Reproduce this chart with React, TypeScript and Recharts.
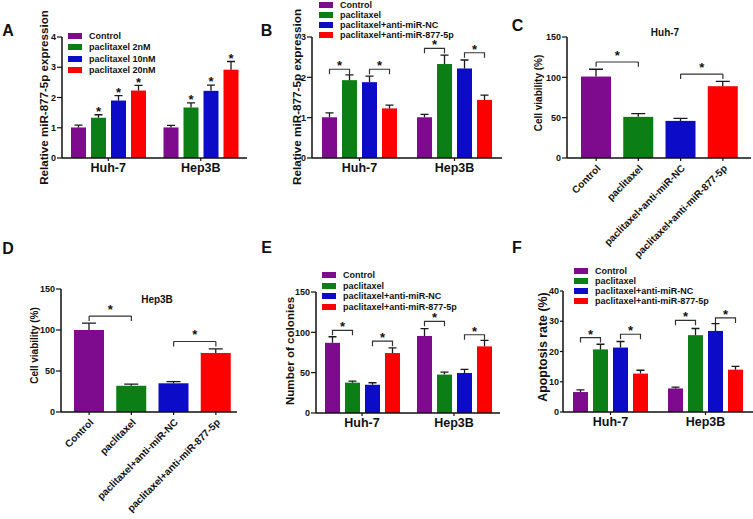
import React from 'react';
import { BarChart, Bar, XAxis, YAxis, Legend, ReferenceLine, Cell } from 'recharts';

const FONT = '"Liberation Sans", Arial, Helvetica, sans-serif';

const groups = ['Huh-7', 'Hep3B'];
const doseNames = ['Control', 'paclitaxel 2nM', 'paclitaxel 10nM', 'paclitaxel 20nM'];
const treatNames = ['Control', 'paclitaxel', 'paclitaxel+anti-miR-NC', 'paclitaxel+anti-miR-877-5p'];
const colors = ['#7e0b8e', '#0b7e16', '#0b0bc8', '#fd0000'];

// A: miR-877-5p after paclitaxel doses (rows = Huh-7, Hep3B)
const aMeans = [[1.01, 1.33, 1.9, 2.23], [1.01, 1.67, 2.22, 2.92]];
const aErrs = [[0.08, 0.1, 0.16, 0.17], [0.07, 0.15, 0.19, 0.27]];
const aStars = [[false, true, true, true], [false, true, true, true]];
const aTicks = [0, 1, 2, 3, 4];

// B: miR-877-5p with anti-miR
const bMeans = [[1.01, 1.93, 1.88, 1.23], [1.01, 2.33, 2.22, 1.44]];
const bErrs = [[0.11, 0.13, 0.15, 0.08], [0.07, 0.22, 0.21, 0.12]];
const bBrackets = [[2.2, 2.2], [2.72, 2.61]];
const bTicks = [0, 1, 2, 3];

// C / D: cell viability
const cMeans = [101, 51, 46, 89];
const cErrs = [9, 4, 3, 6];
const cBrackets = [119, 104];
const dMeans = [100, 32, 35, 72];
const dErrs = [8.5, 2, 2, 5];
const dBrackets = [117, 86];
const viabilityTicks = [0, 50, 100, 150];

// E: colonies
const eMeans = [[87, 37.6, 35, 74.3], [95.5, 47.6, 49.6, 82.6]];
const eErrs = [[7.5, 2, 2.5, 6.5], [9, 3, 4.5, 7.5]];
const eBrackets = [[102.5, 89], [113.6, 97]];
const colonyTicks = [0, 50, 100, 150];

// F: apoptosis
const fMeans = [[6.6, 20.7, 21.3, 12.7], [7.8, 25.4, 26.8, 14.0]];
const fErrs = [[0.7, 1.7, 2.0, 1.1], [0.4, 2.2, 2.4, 1.1]];
const fBrackets = [[24.6, 25.7], [30.3, 31.1]];
const fTicks = [0, 10, 20, 30, 40];

const BAR = 15;
const GAP = 5;
const INK = '#111';
const ERR = '#1a1a1a';
const BR = '#333';

const axisLine = { stroke: INK, strokeWidth: 1.5 };
const tickLine = { stroke: INK, strokeWidth: 1.2 };
const yTick = { fontSize: 9, fontWeight: 700, fill: INK, fontFamily: FONT };
const xTick = { fontSize: 12.5, fontWeight: 700, fill: INK, fontFamily: FONT };

const Star = ({ x, y }: { x: number; y: number }) => (
  <text x={x} y={y} textAnchor="middle" fontSize={13} fontWeight={700} fontFamily={FONT} fill={INK}>
    *
  </text>
);

const yTitle = (text: string, cx: number, cy: number, size: number) => () => (
  <text
    x={cx}
    y={cy}
    transform={`rotate(-90 ${cx} ${cy})`}
    textAnchor="middle"
    dominantBaseline="central"
    fontSize={size}
    fontWeight={700}
    fontFamily={FONT}
    fill={INK}
  >
    {text}
  </text>
);

const legendContent = (names: string[], rowH: number) => (props: any) => {
  const items = [...(props.payload || [])].sort((a: any, b: any) => names.indexOf(a.value) - names.indexOf(b.value));
  return (
    <div style={{ fontFamily: FONT, fontSize: 9, fontWeight: 700, color: INK }}>
      {items.map((e: any) => (
        <div key={e.value} style={{ display: 'flex', alignItems: 'center', height: rowH, whiteSpace: 'nowrap' }}>
          <span style={{ width: 14, height: 6, background: e.color, marginRight: 7, flex: 'none' }} />
          <span>{e.value}</span>
        </div>
      ))}
    </div>
  );
};

const RotTick = (p: any) => {
  const tx = p.x + 5;
  const ty = p.y + 6;
  return (
    <text
      x={tx}
      y={ty}
      transform={`rotate(-45 ${tx} ${ty})`}
      textAnchor="end"
      fontSize={10}
      fontWeight={700}
      fontFamily={FONT}
      fill={INK}
    >
      {p.payload.value}
    </text>
  );
};

type GroupedProps = {
  names: string[];
  means: number[][];
  errs: number[][];
  stars?: boolean[][];
  brackets?: number[][];
  max: number;
  ticks: number[];
  width: number;
  height: number;
  top: number;
  right: number;
  yWidth: number;
  xHeight: number;
  yTickSize?: number;
  title: string;
  titleAt: [number, number, number];
  legendAt: [number, number, number];
};

// bar + error bar + star / bracket, drawn from the bar geometry recharts hands us
const groupedShape = (si: number, p: GroupedProps) => (b: any) => {
  const { x, y, width, height, fill, index } = b;
  const v = p.means[index][si];
  const base = y + height;
  const k = height / v;
  const cx = x + width / 2;
  const top = base - (v + p.errs[index][si]) * k;
  let bracket = null;
  if (p.brackets && si % 2 === 0) {
    const by = base - p.brackets[index][si / 2] * k;
    const cx2 = cx + width + GAP;
    bracket = (
      <g>
        <path d={`M${cx},${by + 5}V${by}H${cx2}V${by + 5}`} stroke={BR} strokeWidth={1.2} fill="none" />
        <Star x={(cx + cx2) / 2} y={by + 1} />
      </g>
    );
  }
  return (
    <g>
      <rect x={x} y={y} width={width} height={height} fill={fill} />
      <path d={`M${cx},${y}V${top}M${cx - 4},${top}H${cx + 4}`} stroke={ERR} strokeWidth={1.3} fill="none" />
      {p.stars && p.stars[index][si] ? <Star x={cx} y={top + 1.2} /> : null}
      {bracket}
    </g>
  );
};

function GroupedPanel(p: GroupedProps) {
  const data = groups.map((g, gi) => {
    const row: Record<string, string | number> = { group: g };
    p.means[gi].forEach((v, si) => {
      row[`s${si}`] = v;
    });
    return row;
  });
  return (
    <BarChart
      width={p.width}
      height={p.height}
      data={data}
      margin={{ top: p.top, right: p.right, bottom: 0, left: 0 }}
      barSize={BAR}
      barGap={GAP}
    >
      <XAxis dataKey="group" height={p.xHeight} tick={xTick} tickSize={3} tickLine={tickLine} axisLine={axisLine} />
      <YAxis
        width={p.yWidth}
        domain={[0, p.max]}
        ticks={p.ticks}
        tick={yTick}
        tickSize={p.yTickSize ?? 5}
        tickMargin={1}
        tickLine={tickLine}
        axisLine={axisLine}
        label={yTitle(p.title, p.titleAt[0], p.titleAt[1], p.titleAt[2])}
      />
      <Legend
        layout="vertical"
        align="center"
        verticalAlign="middle"
        content={legendContent(p.names, p.legendAt[2])}
        wrapperStyle={{ left: p.legendAt[0], top: p.legendAt[1], width: 'auto', height: 'auto' }}
      />
      {p.names.map((n, si) => (
        <Bar key={n} dataKey={`s${si}`} name={n} fill={colors[si]} isAnimationActive={false} shape={groupedShape(si, p)} />
      ))}
    </BarChart>
  );
}

const starLabel = (props: any) => {
  const vb = props.viewBox || {};
  return <Star x={vb.x + vb.width / 2} y={vb.y - 2} />;
};

type ViabilityProps = {
  means: number[];
  errs: number[];
  brackets: number[];
  width: number;
  height: number;
  top: number;
  right: number;
  yWidth: number;
  xHeight: number;
  pad: [number, number];
  titleAt: [number, number, number];
};

const singleShape = (errs: number[], means: number[]) => (b: any) => {
  const { x, y, width, height, fill, index } = b;
  const v = means[index];
  const k = height / v;
  const cx = x + width / 2;
  const top = y + height - (v + errs[index]) * k;
  return (
    <g>
      <rect x={x} y={y} width={width} height={height} fill={fill} />
      <path d={`M${cx},${y}V${top}M${cx - 7},${top}H${cx + 7}`} stroke={ERR} strokeWidth={1.3} fill="none" />
    </g>
  );
};

function ViabilityPanel(p: ViabilityProps) {
  const data = treatNames.map((n, i) => ({ name: n, v: p.means[i] }));
  const pairs = [
    [treatNames[0], treatNames[1]],
    [treatNames[2], treatNames[3]],
  ];
  const leg = 6;
  return (
    <BarChart
      width={p.width}
      height={p.height}
      data={data}
      margin={{ top: p.top, right: p.right, bottom: 0, left: 0 }}
      barSize={30}
    >
      <XAxis
        dataKey="name"
        interval={0}
        height={p.xHeight}
        padding={{ left: p.pad[0], right: p.pad[1] }}
        tick={<RotTick />}
        tickSize={3}
        tickLine={tickLine}
        axisLine={axisLine}
      />
      <YAxis
        width={p.yWidth}
        domain={[0, 150]}
        ticks={viabilityTicks}
        tick={yTick}
        tickSize={5}
        tickMargin={1}
        tickLine={tickLine}
        axisLine={axisLine}
        label={yTitle('Cell viability (%)', p.titleAt[0], p.titleAt[1], p.titleAt[2])}
      />
      <Bar dataKey="v" isAnimationActive={false} shape={singleShape(p.errs, p.means)}>
        {data.map((d, i) => (
          <Cell key={d.name} fill={colors[i]} />
        ))}
      </Bar>
      {pairs.map(([a, c], i) => (
        <ReferenceLine
          key={`h${i}`}
          segment={[
            { x: a, y: p.brackets[i] },
            { x: c, y: p.brackets[i] },
          ]}
          stroke={BR}
          strokeWidth={1.2}
          label={starLabel}
        />
      ))}
      {pairs.map(([a], i) => (
        <ReferenceLine
          key={`l${i}`}
          segment={[
            { x: a, y: p.brackets[i] },
            { x: a, y: p.brackets[i] - leg },
          ]}
          stroke={BR}
          strokeWidth={1.2}
        />
      ))}
      {pairs.map(([, c], i) => (
        <ReferenceLine
          key={`r${i}`}
          segment={[
            { x: c, y: p.brackets[i] },
            { x: c, y: p.brackets[i] - leg },
          ]}
          stroke={BR}
          strokeWidth={1.2}
        />
      ))}
    </BarChart>
  );
}

const Tag = ({ text, x, y, size }: { text: string; x: number; y: number; size: number }) => (
  <div
    style={{
      position: 'absolute',
      left: x,
      top: y,
      transform: 'translate(-50%, -50%)',
      fontFamily: FONT,
      fontWeight: 700,
      fontSize: size,
      lineHeight: 1,
      whiteSpace: 'nowrap',
      color: INK,
    }}
  >
    {text}
  </div>
);

const Place = ({ x, y, children }: { x: number; y: number; children: React.ReactNode }) => (
  <div style={{ position: 'absolute', left: x, top: y }}>{children}</div>
);

export default function App() {
  return (
    <div style={{ position: 'absolute', left: 0, top: 0, width: 753, height: 519, background: '#fff', overflow: 'hidden' }}>
      <Place x={0} y={0}>
        <GroupedPanel
          names={doseNames}
          means={aMeans}
          errs={aErrs}
          stars={aStars}
          max={4}
          ticks={aTicks}
          width={250}
          height={185}
          top={37}
          right={3}
          yWidth={62}
          xHeight={27}
          title="Relative miR-877-5p expression"
          titleAt={[43, 97.5, 11.6]}
          legendAt={[68, 30.5, 11.3]}
        />
      </Place>
      <Place x={250} y={0}>
        <GroupedPanel
          names={treatNames}
          means={bMeans}
          errs={bErrs}
          brackets={bBrackets}
          max={3}
          ticks={bTicks}
          width={255}
          height={185}
          top={37}
          right={3}
          yWidth={62}
          xHeight={27}
          title="Relative miR-877-5p expression"
          titleAt={[46.7, 97, 11.7]}
          legendAt={[69, 0, 10]}
        />
      </Place>
      <Place x={505} y={0}>
        <ViabilityPanel
          means={cMeans}
          errs={cErrs}
          brackets={cBrackets}
          width={248}
          height={275}
          top={37}
          right={2}
          yWidth={62}
          xHeight={117}
          pad={[8, 7]}
          titleAt={[33, 93, 10]}
        />
      </Place>
      <Place x={0} y={240}>
        <ViabilityPanel
          means={dMeans}
          errs={dErrs}
          brackets={dBrackets}
          width={250}
          height={279}
          top={49}
          right={13}
          yWidth={61}
          xHeight={107}
          pad={[7, 0]}
          titleAt={[34, 105.5, 10]}
        />
      </Place>
      <Place x={250} y={260}>
        <GroupedPanel
          names={treatNames}
          means={eMeans}
          errs={eErrs}
          brackets={eBrackets}
          max={150}
          ticks={colonyTicks}
          width={255}
          height={185}
          top={32}
          right={5}
          yWidth={66}
          xHeight={32}
          title="Number of colonies"
          titleAt={[39, 91, 11.6]}
          legendAt={[72, 9.6, 10.7]}
        />
      </Place>
      <Place x={505} y={260}>
        <GroupedPanel
          names={treatNames}
          means={fMeans}
          errs={fErrs}
          brackets={fBrackets}
          max={40}
          ticks={fTicks}
          width={248}
          height={185}
          top={31}
          right={0}
          yWidth={58}
          xHeight={33}
          yTickSize={3}
          title="Apoptosis rate (%)"
          titleAt={[38, 87, 12.4]}
          legendAt={[69, 6, 10]}
        />
      </Place>
      <Tag text="A" x={8} y={31} size={16} />
      <Tag text="B" x={266.5} y={31} size={16} />
      <Tag text="C" x={517.5} y={26} size={16} />
      <Tag text="D" x={8} y={249} size={16} />
      <Tag text="E" x={266.5} y={247.5} size={16} />
      <Tag text="F" x={517} y={247.5} size={16} />
      <Tag text="Huh-7" x={665} y={33} size={10} />
      <Tag text="Hep3B" x={157} y={300} size={10} />
    </div>
  );
}
